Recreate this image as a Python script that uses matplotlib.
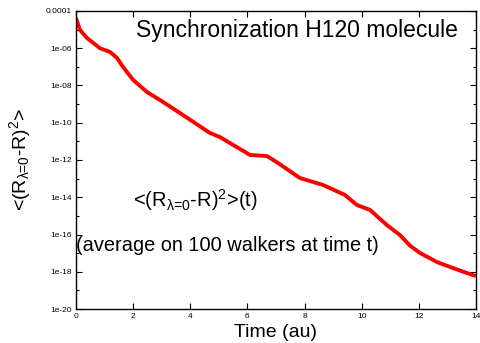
import matplotlib
matplotlib.use("Agg")
import matplotlib.pyplot as plt
import numpy as np

# values (time in au, log10 of <(R-R0)^2>)
time_au = [0.0, 0.14, 0.385, 0.84, 1.19, 1.435, 1.645, 2.0, 2.485, 2.94,
           3.64, 4.69, 5.04, 5.39, 6.09, 6.685, 7.07, 7.84, 8.645, 9.415,
           9.835, 10.29, 10.885, 11.34, 11.69, 12.04, 12.635, 13.195, 13.685, 14.0]
log_dist = [-4.38, -5.02, -5.45, -6.0, -6.2, -6.52, -7.0, -7.7, -8.35, -8.78,
            -9.48, -10.55, -10.77, -11.09, -11.73, -11.79, -12.16, -12.97, -13.34, -13.88,
            -14.42, -14.68, -15.5, -16.03, -16.6, -16.99, -17.48, -17.8, -18.07, -18.23]

plt.rcParams['font.family'] = ['Liberation Sans', 'DejaVu Sans']
plt.rcParams['mathtext.fontset'] = 'custom'
plt.rcParams['mathtext.rm'] = 'Liberation Sans'
plt.rcParams['mathtext.it'] = 'Liberation Sans'

fig = plt.figure(figsize=(4.8, 3.43), dpi=100)
ax = fig.add_axes([0.1583, 0.0991, 0.8334, 0.8689])

dist = 10.0 ** np.array(log_dist)
ax.plot(time_au, dist, color='red', linewidth=2.8, solid_capstyle='butt')

ax.set_yscale('log')
ax.set_xlim(0, 14)
ax.set_ylim(1e-20, 1e-4)

yt = [10.0 ** e for e in range(-20, -3, 2)]
ax.set_yticks(yt)
ax.set_yticklabels(['1e-20', '1e-18', '1e-16', '1e-14', '1e-12', '1e-10', '1e-08', '1e-06', '0.0001'])
ax.set_yticks([10.0 ** e for e in range(-19, -4, 2)], minor=True)
ax.set_yticklabels([], minor=True)
ax.set_xticks(range(0, 15, 2))
ax.xaxis.set_minor_locator(matplotlib.ticker.NullLocator())

ax.tick_params(axis='both', which='major', direction='in', length=4, width=0.8,
               labelsize=6, top=True, right=True, pad=3)
ax.tick_params(axis='y', which='minor', direction='in', length=2, width=0.8, right=True)
for s in ax.spines.values():
    s.set_linewidth(1.0)

sub = r'$_{\lambda\text{=0}}$'
ax.set_xlabel('Time (au)', fontsize=14, labelpad=3)
ax.set_ylabel('<(R' + sub + '-R)$^2$>', fontsize=14, labelpad=9)

ax.text(0.955, 0.935, 'Synchronization H120 molecule', transform=ax.transAxes,
        ha='right', va='center', fontsize=16.5)
ax.text(0.143, 0.365, '<(R' + sub + '-R)$^2$>(t)', transform=ax.transAxes,
        ha='left', va='center', fontsize=14.5)
ax.text(0.0, 0.213, '(average on 100 walkers at time t)', transform=ax.transAxes,
        ha='left', va='center', fontsize=14.4)

fig.savefig('out.png', dpi=100)
